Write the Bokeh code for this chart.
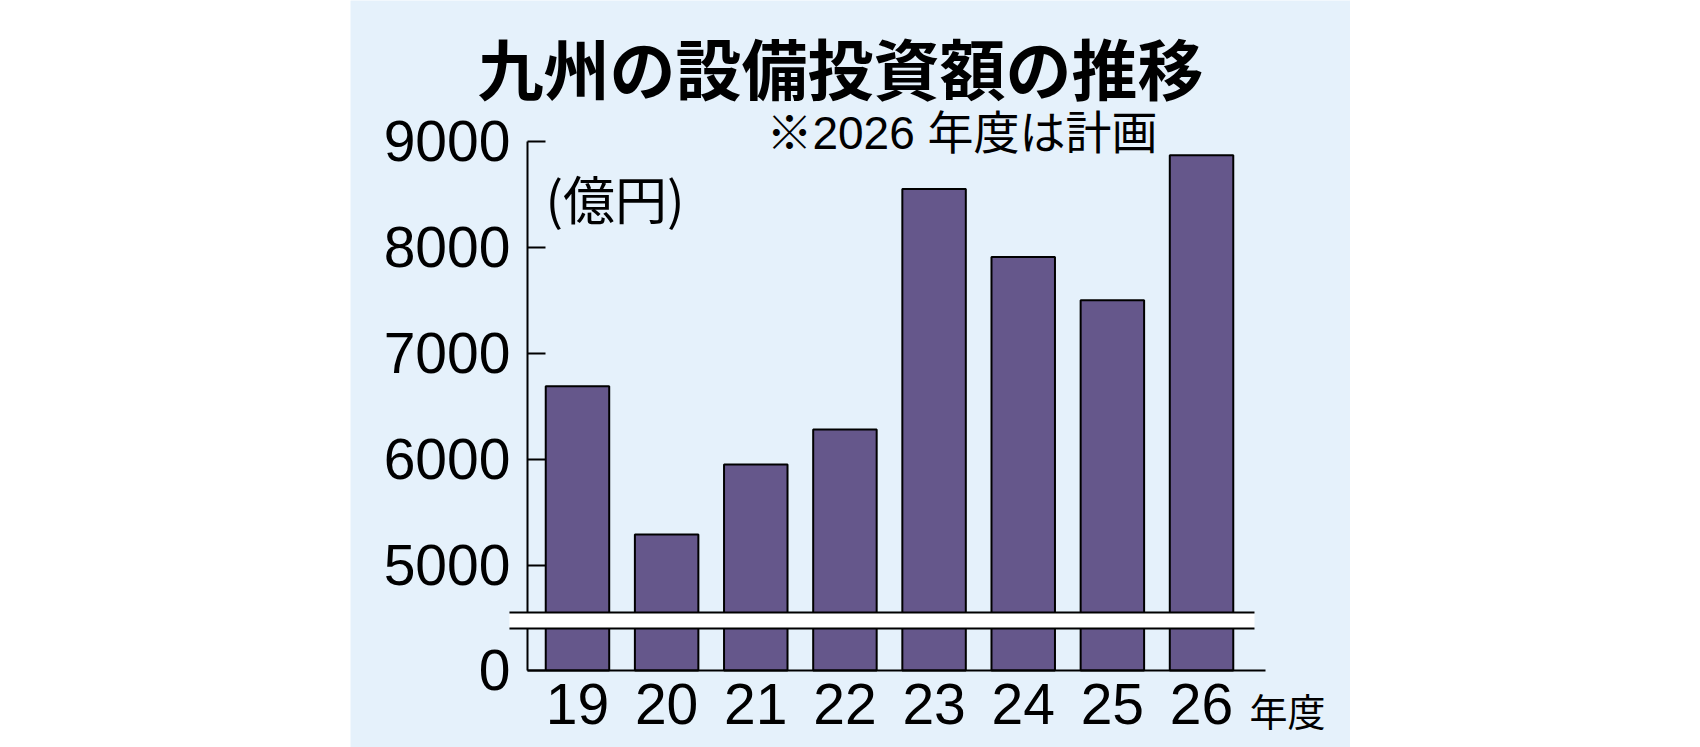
from bokeh.plotting import figure
from bokeh.models import Range1d, FixedTicker, Spacer, Label
from bokeh.layouts import row
from bokeh.core.properties import value
from bokeh.embed import file_html
from bokeh.resources import INLINE

# ---- data -------------------------------------------------------------
title_text = "九州の設備投資額の推移"
note_text = "※2026 年度は計画"
unit_text = "(億円)"
x_unit_text = "年度"
years = ["19", "20", "21", "22", "23", "24", "25", "26"]
investment = [6690, 5290, 5950, 6280, 8550, 7910, 7500, 8870]
y_ticks = [5000, 6000, 7000, 8000, 9000]

# ---- layout constants (broken axis) ------------------------------------
ZERO_POS = 4006          # where the value 0 is drawn, below the break
BREAK_LO, BREAK_HI = 4403, 4554
BG = "#E5F1FB"
BAR = "#65578B"
NUM_FONT = "Liberation Sans, Noto Sans CJK JP"
JP_FONT = "Noto Sans CJK JP"

W, H = 1000, 747
xs = list(range(len(years)))

p = figure(width=W, height=H, output_backend="svg", toolbar_location=None,
           x_range=Range1d(-2.546, 8.671), y_range=Range1d(3279, 10330),
           min_border=0, title=None)
p.background_fill_color = BG
p.border_fill_color = BG
p.outline_line_color = None
p.grid.visible = False

# bars
p.vbar(x=xs, top=investment, bottom=ZERO_POS, width=0.712,
       fill_color=BAR, line_color="black", line_width=2)

# x axis
xa = p.xaxis[0]
xa.fixed_location = ZERO_POS
xa.bounds = (-0.561, 7.717)
xa.ticker = FixedTicker(ticks=xs)
xa.major_label_overrides = {i: y for i, y in zip(xs, years)}
xa.major_tick_in = 0
xa.major_tick_out = 0
xa.minor_tick_in = 0
xa.minor_tick_out = 0
xa.axis_line_width = 2
xa.axis_line_color = "black"
xa.major_label_standoff = 14
xa.major_label_text_font = NUM_FONT
xa.major_label_text_font_size = "57px"
xa.major_label_text_color = "black"

# y axis
ya = p.yaxis[0]
ya.fixed_location = -0.561
ya.bounds = (ZERO_POS, y_ticks[-1])
ya.ticker = FixedTicker(ticks=[ZERO_POS] + y_ticks)
ya.major_label_overrides = {ZERO_POS: "0"}
ya.major_tick_in = 18
ya.major_tick_out = 0
ya.minor_tick_in = 0
ya.minor_tick_out = 0
ya.major_tick_line_width = 2
ya.major_tick_line_color = "black"
ya.axis_line_width = 2
ya.axis_line_color = "black"
ya.major_label_standoff = 17
ya.major_label_text_font = NUM_FONT
ya.major_label_text_font_size = "57px"
ya.major_label_text_color = "black"

# axis break band
p.quad(left=-0.763, right=7.594, bottom=BREAK_LO, top=BREAK_HI,
       fill_color="white", line_color=None, level="overlay")
p.segment(x0=[-0.763, -0.763], x1=[7.594, 7.594], y0=[BREAK_LO, BREAK_HI],
          y1=[BREAK_LO, BREAK_HI], line_color="black", line_width=2, level="overlay")

# texts
p.add_layout(Label(x=2.95, y=9716, text=title_text, text_align="center",
                   text_baseline="middle", text_font=JP_FONT,
                   text_font_size="66px", text_font_style="bold", text_color="black"))
p.add_layout(Label(x=6.506, y=9084, text=note_text, text_align="right",
                   text_baseline="middle", text_font=NUM_FONT,
                   text_font_size="46px", text_color="black"))
p.add_layout(Label(x=-0.359, y=8470, text=unit_text, text_align="left",
                   text_baseline="middle", text_font=JP_FONT,
                   text_font_size="52px", text_color="black"))
p.add_layout(Label(x=7.538, y=3633, text=x_unit_text, text_align="left",
                   text_baseline="middle", text_font=JP_FONT,
                   text_font_size="38px", text_color="black"))

layout = row(Spacer(width=350, height=H), p)
open("out.html", "w").write(file_html(layout, INLINE))
